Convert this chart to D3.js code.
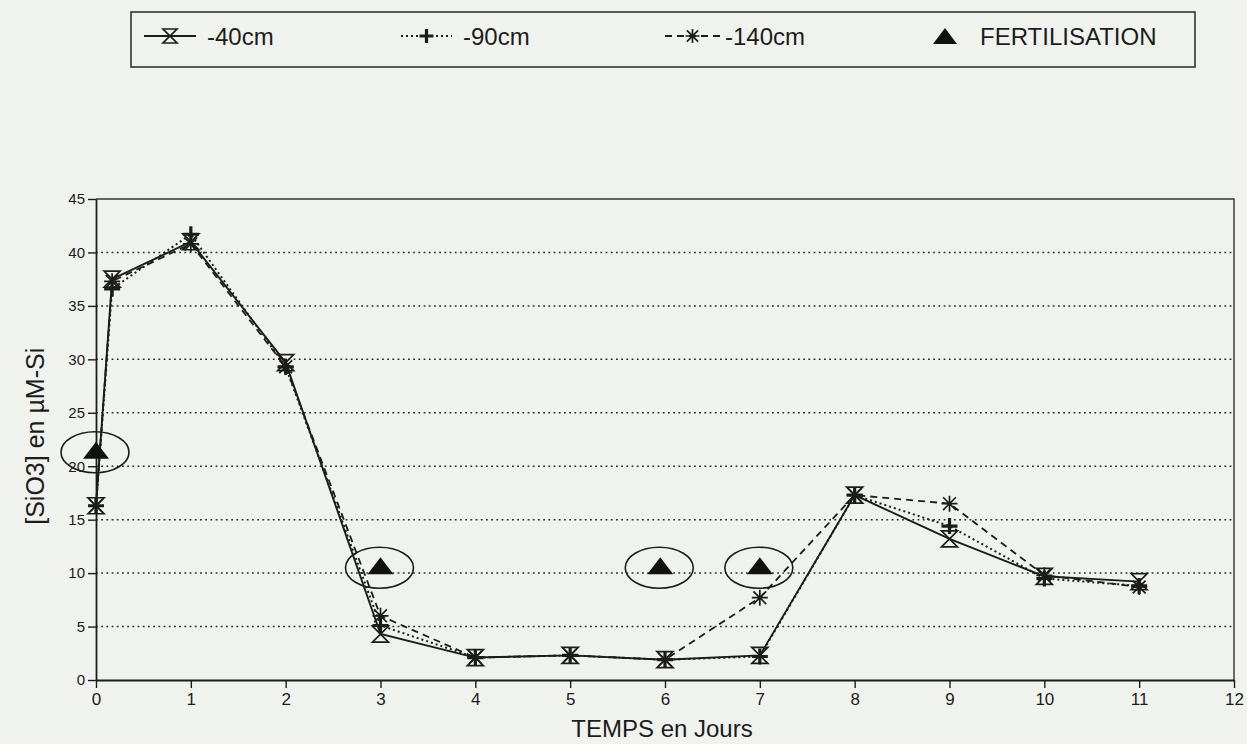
<!DOCTYPE html>
<html>
<head>
<meta charset="utf-8">
<script src="https://cdn.jsdelivr.net/npm/d3@7"></script>
<style>
  html, body { margin: 0; padding: 0; background: #f0f3ed; }
  svg { display: block; font-family: "Liberation Sans", Arial, sans-serif; }
</style>
</head>
<body>
<svg id="chart" width="1247" height="744"></svg>
<script>
// Sampling days (second sample taken a few hours after the first fertilisation)
const days = [0, 0.17, 1, 2, 3, 4, 5, 6, 7, 8, 9, 10, 11];

// Dissolved silica [SiO3] in µM-Si at three depths
const depth40  = [16.3, 37.5, 41.0, 29.7, 4.3, 2.1, 2.3, 1.9, 2.3, 17.3, 13.2, 9.7, 9.2];
const depth90  = [16.3, 36.6, 41.7, 29.3, 5.1, 2.1, 2.3, 1.9, 2.2, 17.3, 14.4, 9.5, 8.8];
const depth140 = [16.3, 37.3, 40.8, 29.3, 6.0, 2.1, 2.3, 1.9, 7.7, 17.3, 16.5, 9.8, 8.7];

// Fertilisation events
const fertDays   = [0, 3, 5.95, 7];
const fertLevels = [21.4, 10.6, 10.6, 10.6];

const xTicks = d3.range(0, 13, 1);
const yTicks = d3.range(0, 46, 5);

const seriesNames = ["-40cm", "-90cm", "-140cm"];
const fertName = "FERTILISATION";

const svg = d3.select("#chart");
const ink = "#1c1c1c";

const x = d3.scaleLinear().domain([0, 12]).range([96, 1234]);
const y = d3.scaleLinear().domain([0, 45]).range([680, 199]);

// dotted horizontal grid
svg.append("g")
  .selectAll("line")
  .data(yTicks.filter(v => v > 0 && v < 45))
  .join("line")
  .attr("x1", x(0)).attr("x2", x(12))
  .attr("y1", d => y(d)).attr("y2", d => y(d))
  .attr("stroke", "#2a2a2a")
  .attr("stroke-width", 1.5)
  .attr("stroke-dasharray", "1.8,3.4");

// plot frame (top and right)
svg.append("path")
  .attr("d", `M${x(0)},${y(45)}H${x(12)}V${y(0)}`)
  .attr("fill", "none").attr("stroke", "#333").attr("stroke-width", 1.4);

// axes
const yAxis = svg.append("g")
  .attr("transform", `translate(${x(0)},0)`)
  .call(d3.axisLeft(y).tickValues(yTicks).tickSize(8).tickSizeOuter(0));
const xAxis = svg.append("g")
  .attr("transform", `translate(0,${y(0)})`)
  .call(d3.axisBottom(x).tickValues(xTicks).tickSize(8).tickSizeOuter(0));
[xAxis, yAxis].forEach(g => {
  g.select(".domain").attr("stroke", ink).attr("stroke-width", 1.8);
  g.selectAll(".tick line").attr("stroke", ink).attr("stroke-width", 1.4);
  g.selectAll(".tick text").attr("fill", ink);
});
yAxis.selectAll(".tick text").attr("font-size", 15);
xAxis.selectAll(".tick text").attr("font-size", 17).attr("dy", "0.85em")
  .attr("font-family", "'Liberation Sans Narrow', 'Liberation Sans', Arial, sans-serif");

// axis titles
svg.append("text")
  .attr("x", 662).attr("y", 737)
  .attr("text-anchor", "middle")
  .attr("font-size", 24).attr("fill", ink)
  .text("TEMPS en Jours");
svg.append("text")
  .attr("transform", `translate(44,${y(22.8)}) rotate(-90)`)
  .attr("text-anchor", "middle")
  .attr("font-size", 25).attr("fill", ink)
  .text("[SiO3] en µM-Si");

// marker shapes
function hourglass(g, s) {
  g.append("path")
    .attr("d", `M${-s},${-s}H${s}L${-s},${s}H${s}Z`)
    .attr("fill", "none").attr("stroke", ink).attr("stroke-width", 1.7);
}
function plus(g, s) {
  g.append("path")
    .attr("d", `M${-s},0H${s}M0,${-s}V${s}`)
    .attr("stroke", ink).attr("stroke-width", 3.2);
}
function star(g, s) {
  const d = s * 0.8;
  g.append("path")
    .attr("d", `M${-s},0H${s}M${-d},${-d}L${d},${d}M${-d},${d}L${d},${-d}M0,${-s}V${s}`)
    .attr("stroke", ink).attr("stroke-width", 1.7);
}
// flat filled triangle
function triangle(w, h) {
  return `M${-w / 2},${h / 2}L0,${-h / 2}L${w / 2},${h / 2}Z`;
}

const series = [
  { name: seriesNames[0], values: depth40,  dash: null,  width: 1.9, marker: hourglass },
  { name: seriesNames[1], values: depth90,  dash: "2,3", width: 2.0, marker: plus },
  { name: seriesNames[2], values: depth140, dash: "7,5", width: 1.8, marker: star }
];

const line = d3.line().x(d => x(d[0])).y(d => y(d[1]));

series.forEach(s => {
  const pts = days.map((d, i) => [d, s.values[i]]);
  svg.append("path")
    .datum(pts)
    .attr("d", line)
    .attr("fill", "none")
    .attr("stroke", ink)
    .attr("stroke-width", s.width)
    .attr("stroke-dasharray", s.dash);
  svg.append("g").selectAll("g")
    .data(pts)
    .join("g")
    .attr("transform", d => `translate(${x(d[0])},${y(d[1])})`)
    .each(function () { s.marker(d3.select(this), 8); });
});

// fertilisation triangles, circled
const fert = fertDays.map((d, i) => [d, fertLevels[i]]);
svg.append("g").selectAll("ellipse")
  .data(fert)
  .join("ellipse")
  .attr("cx", d => x(d[0]) - 1)
  .attr("cy", d => y(d[1]) + 1)
  .attr("rx", 34).attr("ry", 20.5)
  .attr("fill", "none").attr("stroke", ink).attr("stroke-width", 1.6);
svg.append("g").selectAll("path")
  .data(fert)
  .join("path")
  .attr("d", triangle(26, 17))
  .attr("transform", d => `translate(${x(d[0])},${y(d[1]) - 1})`)
  .attr("fill", "#111");

// legend
const legend = svg.append("g");
legend.append("rect")
  .attr("x", 131).attr("y", 12).attr("width", 1064).attr("height", 55)
  .attr("fill", "none").attr("stroke", "#333").attr("stroke-width", 1.6);
const legendItems = [
  { s: series[0], x0: 144, x1: 196, tx: 207 },
  { s: series[1], x0: 401, x1: 452, tx: 463 },
  { s: series[2], x0: 665, x1: 720, tx: 725 }
];
const ly = 36;
legendItems.forEach(it => {
  legend.append("line")
    .attr("x1", it.x0).attr("x2", it.x1).attr("y1", ly).attr("y2", ly)
    .attr("stroke", ink).attr("stroke-width", it.s.width)
    .attr("stroke-dasharray", it.s.dash);
  const m = legend.append("g").attr("transform", `translate(${(it.x0 + it.x1) / 2},${ly})`);
  it.s.marker(m, 7);
  legend.append("text")
    .attr("x", it.tx).attr("y", ly).attr("dy", "0.36em")
    .attr("font-size", 24).attr("fill", ink)
    .text(it.s.name);
});
legend.append("path")
  .attr("d", triangle(24, 16))
  .attr("transform", `translate(945,${ly})`)
  .attr("fill", "#111");
legend.append("text")
  .attr("x", 980).attr("y", ly).attr("dy", "0.36em")
  .attr("font-size", 24).attr("fill", ink)
  .text(fertName);
</script>
</body>
</html>
